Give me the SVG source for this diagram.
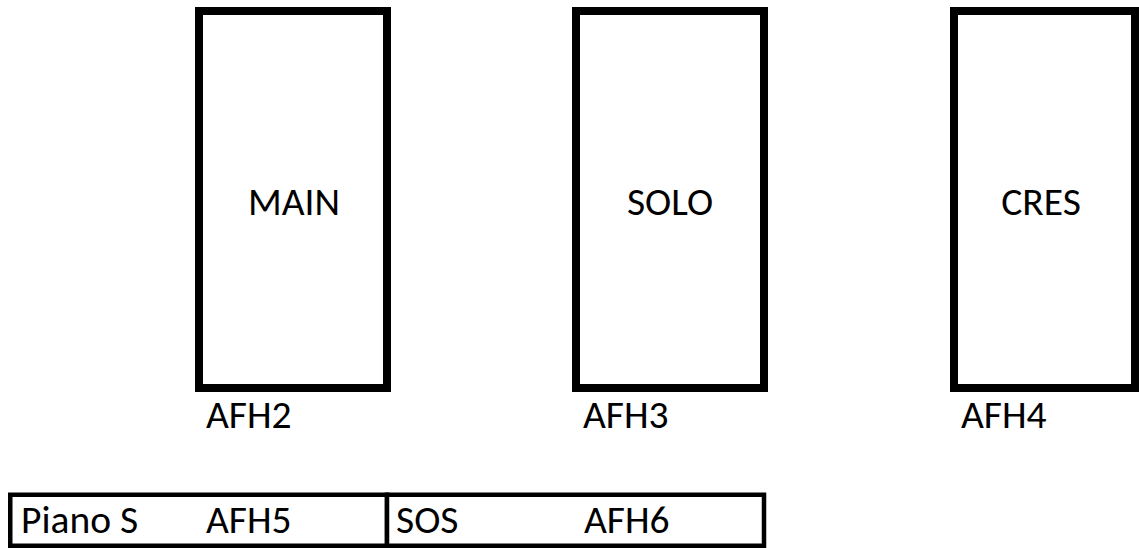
<svg xmlns="http://www.w3.org/2000/svg" width="1139" height="548" viewBox="0 0 1139 548">
  <style>
    .box { fill: #ffffff; stroke: #000000; stroke-width: 8; }
    .cell { fill: #ffffff; stroke: #000000; stroke-width: 4.5; }
    .lbl { font-family: Carlito, Calibri, Lato, "Noto Sans", sans-serif; font-size: 39.5px; fill: #000000; }
    .mid { text-anchor: middle; }
  </style>
  <rect x="0" y="0" width="1139" height="548" fill="#ffffff"/>
  <g id="main">
    <rect class="box" x="199" y="11" width="188" height="377"/>
    <text class="lbl mid" x="294" y="215">MAIN</text>
    <text class="lbl" x="206" y="428">AFH2</text>
  </g>
  <g id="solo">
    <rect class="box" x="576" y="11" width="188" height="377"/>
    <text class="lbl mid" x="670" y="215">SOLO</text>
    <text class="lbl" x="583" y="428">AFH3</text>
  </g>
  <g id="cres">
    <rect class="box" x="954" y="11" width="181" height="377"/>
    <text class="lbl mid" x="1041" y="215">CRES</text>
    <text class="lbl" x="961" y="428">AFH4</text>
  </g>
  <g id="piano-s">
    <rect class="cell" x="10.25" y="494.75" width="376.75" height="51"/>
    <text class="lbl" x="21" y="533">Piano S</text>
    <text class="lbl" x="206" y="533">AFH5</text>
  </g>
  <g id="sos">
    <rect class="cell" x="387" y="494.75" width="377" height="51"/>
    <text class="lbl" x="396" y="533">SOS</text>
    <text class="lbl" x="584" y="533">AFH6</text>
  </g>
  <g id="connectors"></g>
</svg>
